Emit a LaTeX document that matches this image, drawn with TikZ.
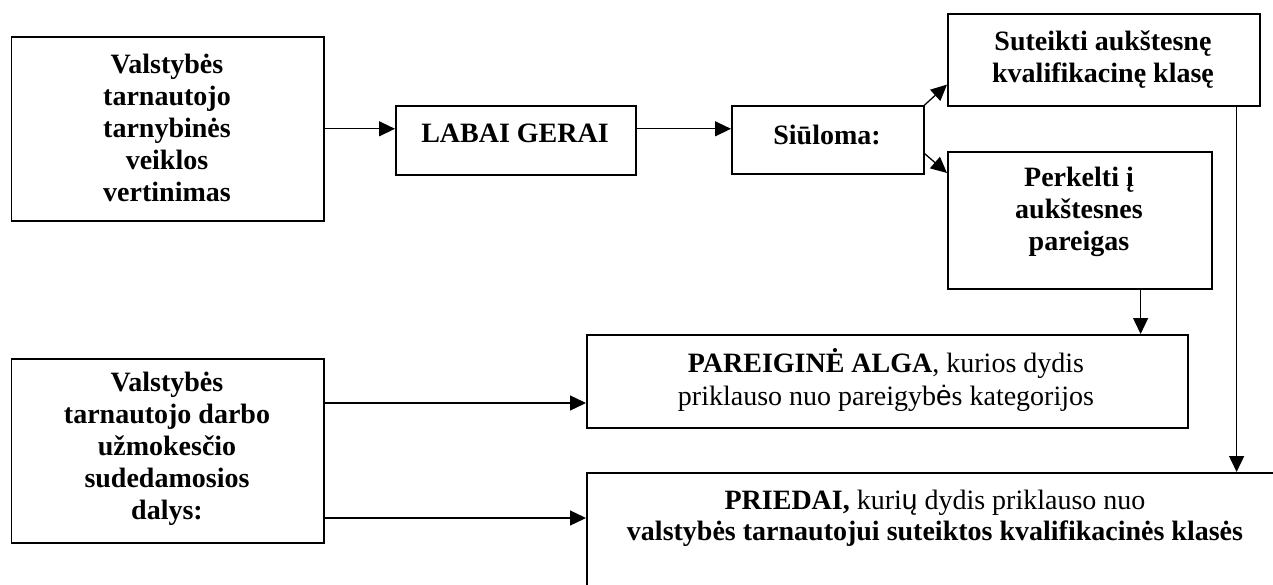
\documentclass[tikz,border=0pt]{standalone}
\usepackage{fontspec}
\setmainfont{Liberation Serif}
\newfontfamily\glyphsans{Liberation Sans}
\usetikzlibrary{arrows.meta,calc}
\begin{document}
\begin{tikzpicture}[x=1pt,y=-1pt,
  box/.style={draw,line width=1.6pt,rectangle,inner sep=0pt,anchor=north west},
  lbl/.style={align=center,inner sep=0pt,font=\fontsize{28}{32}\selectfont\bfseries},
  plain/.style={align=center,inner sep=0pt,font=\fontsize{28}{33}\selectfont},
  arr/.style={line width=1.3pt,-{Triangle[length=16pt,width=15pt]}}]
\useasboundingbox (0,0) rectangle (1273,585);

% boxes
\node[box,minimum width=312.3pt,minimum height=184pt] (b1) at (10.7,36) {};
\node[box,minimum width=240pt,minimum height=69pt] (labai) at (395,105) {};
\node[box,minimum width=192pt,minimum height=68pt] (siul) at (731,105) {};
\node[box,minimum width=312pt,minimum height=92pt] (sut) at (947,13) {};
\node[box,minimum width=264pt,minimum height=137pt] (perk) at (947,151) {};
\node[box,minimum width=312.3pt,minimum height=184pt] (low) at (10.7,358) {};
\node[box,minimum width=601pt,minimum height=93pt] (par) at (586,334) {};
\node[box,minimum width=700pt,minimum height=150pt] (pri) at (586,472) {};

% texts
\node[lbl] (t1) at (167,128) {Valstybės\\tarnautojo\\tarnybinės\\veiklos\\vertinimas};
\node[lbl] (t2) at (515,133) {LABAI GERAI};
\node[lbl] (t3) at (827,135) {Siūloma:};
\node[lbl] (t4) at (1103,60) {Suteikti aukštesnę\\kvalifikacinę klasę};
\node[lbl] (t5) at (1079,212) {Perkelti į\\aukštesnes\\pareigas};
\node[lbl] (t6) at (167,449) {Valstybės\\tarnautojo darbo\\užmokesčio\\sudedamosios\\dalys:};
\node[plain] (t7) at (886,380) {\textbf{PAREIGINĖ ALGA}, kurios dydis\\priklauso nuo pareigyb{\glyphsans ė}s kategorijos};
\node[plain,font=\fontsize{28}{31}\selectfont] (t8) at (935,518) {\textbf{PRIEDAI,} kuri{\glyphsans ų} dydis priklauso nuo\\\textbf{valstybės tarnautojui suteiktos kvalifikacinės klasės}};

% connectors
\draw[arr] (b1.east) -- (b1.east -| labai.west);
\draw[arr] (labai.east |- b1.east) -- (siul.west |- b1.east);
\draw[arr] (siul.north east) -- ($(sut.south west)+(0,-22)$);
\draw[arr] ($(siul.south east)+(0,-21)$) -- ($(perk.north west)+(0,22)$);
\coordinate (sd) at ($(sut.south east)+(-24,0)$);
\draw[arr] (sd) -- (sd |- pri.north);
\coordinate (pd) at ($(perk.south east)+(-72,0)$);
\draw[arr] (pd) -- (pd |- par.north);
\coordinate (la) at ($(low.north east)+(0,45)$);
\draw[arr] (la) -- (la -| par.west);
\coordinate (lb) at ($(low.north east)+(0,160)$);
\draw[arr] (lb) -- (lb -| pri.west);
\end{tikzpicture}
\end{document}
